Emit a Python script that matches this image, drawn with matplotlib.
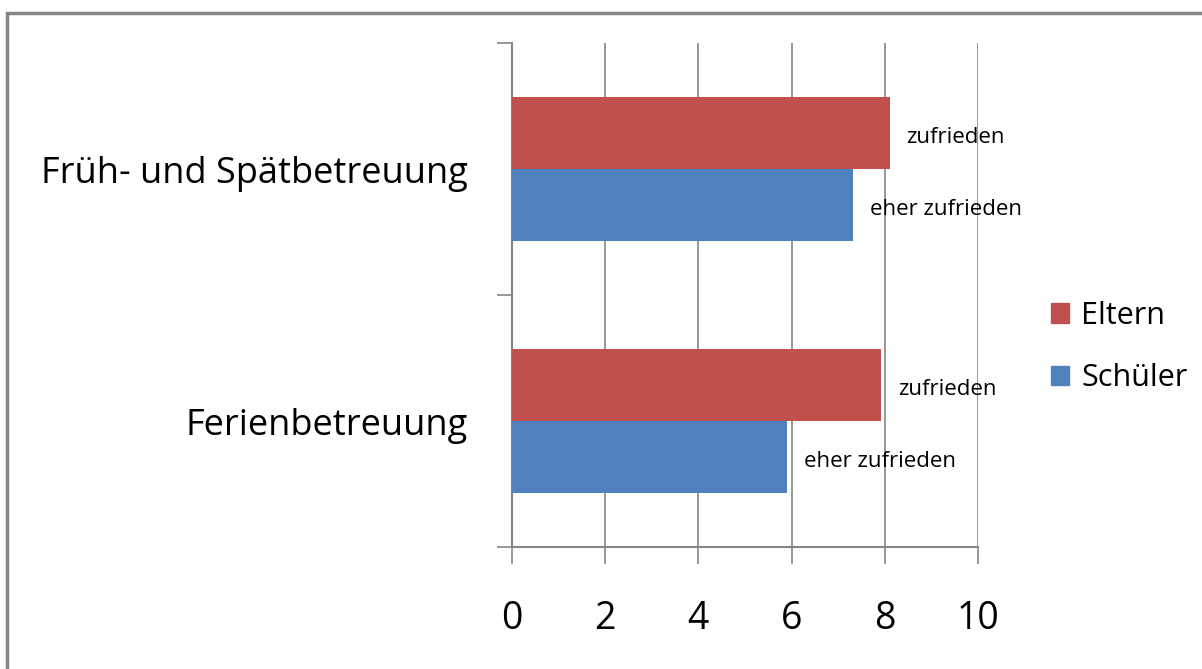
import matplotlib
matplotlib.use("Agg")
import matplotlib.pyplot as plt
from matplotlib.patches import Rectangle, Patch

# data
categories = ["Ferienbetreuung", "Früh- und Spätbetreuung"]
eltern = [7.92, 8.11]
schueler = [5.9, 7.32]
eltern_labels = ["zufrieden", "zufrieden"]
schueler_labels = ["eher zufrieden", "eher zufrieden"]
xticks = [0, 2, 4, 6, 8, 10]

RED = "#c0504d"
BLUE = "#4f81bd"
GRID = "#868686"


def main():
    plt.rcParams["font.family"] = ["Open Sans", "DejaVu Sans"]
    fig = plt.figure(figsize=(12.02, 6.69), dpi=100)
    ax = fig.add_axes([512 / 1202, 1 - 547 / 669, 466 / 1202, 504 / 669])

    h = 0.286
    ypos = list(range(len(categories)))
    ax.barh([y + h / 2 for y in ypos], eltern, height=h, color=RED, zorder=3)
    ax.barh([y - h / 2 for y in ypos], schueler, height=h, color=BLUE, zorder=3)

    for y, v, t in zip(ypos, eltern, eltern_labels):
        ax.annotate(t, (v, y + h / 2), xytext=(12, -3), textcoords="offset points",
                    va="center", ha="left", fontsize=16, zorder=4)
    for y, v, t in zip(ypos, schueler, schueler_labels):
        ax.annotate(t, (v, y - h / 2), xytext=(12, -3), textcoords="offset points",
                    va="center", ha="left", fontsize=16, zorder=4)

    ax.set_xlim(0, 10)
    ax.set_ylim(-0.5, 1.5)
    ax.set_xticks(xticks)
    ax.set_xticklabels([str(t) for t in xticks], fontsize=27)
    ax.set_yticks(ypos)
    ax.set_yticklabels(categories, fontsize=26)
    ax.set_yticks([-0.5, 0.5, 1.5], minor=True)
    ax.tick_params(axis="y", which="major", length=0, pad=32)
    ax.tick_params(axis="y", which="minor", length=11, color=GRID, width=1.2)
    ax.tick_params(axis="x", length=12, color=GRID, width=1.2, pad=26)

    ax.grid(axis="x", color=GRID, linewidth=1.2, zorder=0)
    for s in ["top", "right"]:
        ax.spines[s].set_visible(False)
    for s in ["left", "bottom"]:
        ax.spines[s].set_color(GRID)
        ax.spines[s].set_linewidth(1.5)

    handles = [Patch(color=RED, label="Eltern"), Patch(color=BLUE, label="Schüler")]
    fig.legend(handles=handles, loc="center left", bbox_to_anchor=(1023 / 1202, 1 - 347 / 669),
               frameon=False, fontsize=22, handlelength=0.6, handleheight=0.6,
               handletextpad=0.4, labelspacing=1.05)

    # outer chart border (only top and left visible)
    fig.patches.append(Rectangle((7 / 1202, -0.1), 1.2, (669 - 13) / 669 + 0.1,
                                 transform=fig.transFigure, fill=False,
                                 edgecolor=GRID, linewidth=2.5))

    fig.savefig("out.png", dpi=100)


if __name__ == "__main__":
    main()
